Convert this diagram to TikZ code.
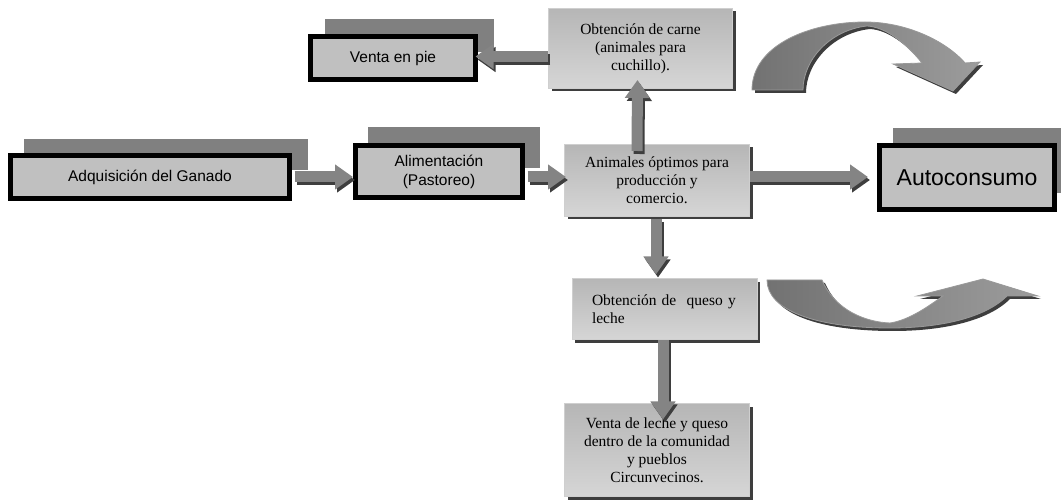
\documentclass[tikz,border=0pt]{standalone}
\usepackage{fontspec}
\setmainfont{Liberation Serif}
\newfontfamily\arialf{Liberation Sans}
\usetikzlibrary{arrows.meta,shadows,calc}
\definecolor{boxgray}{HTML}{C0C0C0}
\definecolor{backgray}{HTML}{808080}
\definecolor{arrgray}{HTML}{848484}
\definecolor{arrdark}{HTML}{3E3E3E}
\definecolor{gtop}{HTML}{B6B6B6}
\definecolor{gbot}{HTML}{D6D6D6}
\definecolor{gedge}{HTML}{CFCFCF}
\definecolor{cleft}{HTML}{727272}
\definecolor{cright}{HTML}{9C9C9C}
\tikzset{
  blackbox/.style={draw=black, line width=5pt, fill=boxgray, inner sep=0pt, align=center,
    font=\arialf\fontsize{15.5}{19}\selectfont},
  gradbox/.style={draw=gedge, line width=1pt, top color=gtop, bottom color=gbot, inner sep=0pt, align=center,
    drop shadow={shadow xshift=3pt, shadow yshift=-3pt, fill=arrdark, opacity=1},
    font=\fontsize{15.5}{18}\selectfont},
  backrect/.style={fill=backgray},
  barrow/.style={draw=arrgray, line width=11pt, -{Triangle[length=18pt,width=24pt]}},
  bshadow/.style={draw=arrdark, line width=11pt, -{Triangle[length=18pt,width=24pt]},
    transform canvas={shift={(2pt,-3pt)}}},
  curvearrow/.style={left color=cleft, right color=cright, draw=gray!80, line width=0.8pt},
  curveshadow/.style={fill=arrdark}
}
\newcommand\blockarrow[2]{\draw[bshadow] #1 -- #2; \draw[barrow] #1 -- #2;}
\begin{document}
\begin{tikzpicture}[x=1pt,y=-1pt]
\useasboundingbox (0,0) rectangle (1061,502);
% back rectangles
\fill[backrect] (24,139) rectangle (308,170);
\fill[backrect] (368,127) rectangle (540,168);
\fill[backrect] (325,19) rectangle (494,52);
\fill[backrect] (893,128) rectangle (1062,193);
% black boxes
\node[blackbox, minimum width=279pt, minimum height=43pt] (adq) at (150,177) {Adquisición del Ganado};
\node[blackbox, minimum width=167pt, minimum height=52pt] (alim) at (439,171.5) {Alimentación\\(Pastoreo)};
\node[blackbox, minimum width=165pt, minimum height=43pt] (vpie) at (393,58) {Venta en pie};
\node[blackbox, minimum width=175pt, minimum height=64pt, font=\arialf\fontsize{23}{27}\selectfont] (auto) at (967,177.5) {Autoconsumo};
% gradient boxes
\node[gradbox, minimum width=184pt, minimum height=80pt] (carne) at (640.5,48.5) {Obtención de carne\\(animales para\\cuchillo).};
\node[gradbox, minimum width=185pt, minimum height=72pt] (anim) at (657,180.5) {Animales óptimos para\\producción y\\comercio.};
\node[gradbox, minimum width=185pt, minimum height=61pt, text width=145pt, align=left] (queso) at (664.5,309.5) {Obtención de\ \ queso y\\leche};
\node[gradbox, minimum width=185pt, minimum height=93pt] (vent2) at (657,450.5) {Venta de leche y queso\\dentro de la comunidad\\y pueblos\\Circunvecinos.};
% block arrows
\blockarrow{($(adq.east)+(2.5,0)$)}{(alim.west |- adq.east)}
\blockarrow{($(alim.east |- adq.east)+(2.5,0)$)}{($(anim.west |- adq.east)+(2,0)$)}
\blockarrow{(anim.east |- adq.east)}{($(auto.west |- adq.east)+(-9,0)$)}
\blockarrow{($(anim.north)+(-20,7)$)}{($(carne.south)+(-3,-9)$)}
\blockarrow{($(carne.west |- vpie.east)+(0,-1.5)$)}{($(vpie.east)+(-2.5,-1.5)$)}
\blockarrow{($(anim.south)+(-1,2)$)}{($(queso.north)+(-8.5,-4)$)}
\blockarrow{($(queso.south)+(-1.5,0)$)}{($(vent2.north)+(6,16)$)}
% curved arrows
\def\upperpath{(752,90) .. controls (752,45) and (810,22) .. (865,22) .. controls (905,22) and (945,40) .. (965,63) -- (980,62) -- (953,91) -- (893,64) -- (922,63) .. controls (905,42) and (885,27) .. (867,26) .. controls (830,30) and (803,60) .. (803,90) -- cycle}
\def\lowerpath{(767,280) -- (822,280) .. controls (835,310) and (865,322) .. (890,323) .. controls (910,320) and (930,305) .. (943,296) -- (917,296) -- (983,279) -- (1038,296) -- (1007,296) .. controls (985,318) and (940,328) .. (890,328) .. controls (815,328) and (767,310) .. (767,280) -- cycle}
\fill[curveshadow, shift={(3,3)}] \upperpath;
\path[curvearrow] \upperpath;
\fill[curveshadow, shift={(3,3)}] \lowerpath;
\path[curvearrow] \lowerpath;
\end{tikzpicture}
\end{document}
